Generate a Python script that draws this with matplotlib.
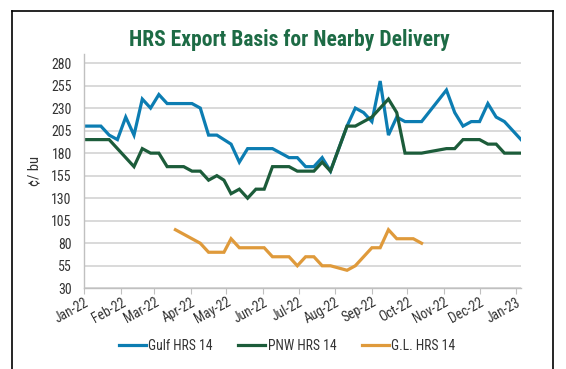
import numpy as np
import matplotlib
matplotlib.use("Agg")
import matplotlib.pyplot as plt
import matplotlib.dates as mdates
from matplotlib.font_manager import fontManager

# weekly report dates
dates = ["2022-01-01", "2022-01-08", "2022-01-15", "2022-01-22", "2022-01-29",
         "2022-02-05", "2022-02-12", "2022-02-19", "2022-02-26", "2022-03-05",
         "2022-03-12", "2022-03-19", "2022-03-26", "2022-04-02", "2022-04-09",
         "2022-04-16", "2022-04-23", "2022-04-29", "2022-05-05", "2022-05-12",
         "2022-05-19", "2022-05-26", "2022-06-02", "2022-06-09", "2022-06-16",
         "2022-06-23", "2022-06-30", "2022-07-07", "2022-07-14", "2022-07-21",
         "2022-07-28", "2022-08-04", "2022-08-11", "2022-08-18", "2022-08-25",
         "2022-09-01", "2022-09-08", "2022-09-15", "2022-09-22", "2022-09-29",
         "2022-10-06", "2022-10-13", "2022-10-20", "2022-10-27", "2022-11-03",
         "2022-11-10", "2022-11-17", "2022-11-24", "2022-12-01", "2022-12-08",
         "2022-12-15", "2022-12-22", "2022-12-29", "2023-01-05"]

gulf = [210, 210, 210, 200, 195, 220, 200, 240, 230, 245,
        235, 235, 235, 235, 230, 200, 200, 195, 190, 170,
        185, 185, 185, 185, 180, 175, 175, 165, 165, 175,
        160, None, 210, 230, 225, 215, 260, 200, 220, 215,
        215, 215, None, None, 250, 225, 210, 215, 215, 235,
        220, 215, None, 195]

pnw = [195, 195, 195, 195, None, None, 165, 185, 180, 180,
       165, 165, 165, 160, 160, 150, 155, 150, 135, 140,
       130, 140, 140, 165, 165, 165, 160, 160, 160, 170,
       160, None, 210, 210, 215, 220, 230, 240, 225, 180,
       180, 180, None, None, 185, 185, 195, 195, 195, 190,
       190, 180, 180, 180]

gl = [None, None, None, None, None, None, None, None, None, None,
      None, 95, 90, 85, 80, 70, 70, 70, 85, 75,
      75, 75, 75, 65, 65, 65, 55, 65, 65, 55,
      55, None, 50, 55, None, 75, 75, 95, 85, 85,
      85, 80, None, None, None, None, None, None, None, None,
      None, None, None, None]

series_names = ["Gulf HRS 14", "PNW HRS 14", "G.L. HRS 14"]
colors = ["#0c7db2", "#1c5c3a", "#df9a3b"]
y_ticks = [30, 55, 80, 105, 130, 155, 180, 205, 230, 255, 280]

# narrow font like the original, if one is there
names = {f.name for f in fontManager.ttflist}
font = "DejaVu Sans"
for cand in ["Roboto Condensed", "Barlow Condensed", "Archivo Narrow", "Asap Condensed"]:
    if cand in names:
        font = cand
        break
plt.rcParams["font.family"] = [font, "DejaVu Sans"]

fig = plt.figure(figsize=(5.66, 3.69), dpi=100)
ax = fig.add_axes([84.3 / 566, 1 - 288.3 / 369, (521 - 84.3) / 566, (288.3 - 54) / 369])

x = np.array(dates, dtype="datetime64[D]")
for vals, name, c in zip([gulf, pnw, gl], series_names, colors):
    v = np.array([np.nan if a is None else a for a in vals], dtype=float)
    ok = ~np.isnan(v)
    ax.plot(x[ok], v[ok], color=c, lw=2.3, label=name, solid_joinstyle="miter")

ax.set_xlim(x[0], x[-1])
ax.set_ylim(30, 290)
ax.set_yticks(y_ticks)
ax.yaxis.grid(True, color="#d0d0d0", lw=1.1)
ax.set_axisbelow(True)
ax.xaxis.set_major_locator(mdates.MonthLocator())
ax.xaxis.set_major_formatter(mdates.DateFormatter("%b-%y"))
for s in ["top", "right"]:
    ax.spines[s].set_visible(False)
for s in ["left", "bottom"]:
    ax.spines[s].set_color("#c0c0c0")
    ax.spines[s].set_linewidth(1.0)
ax.tick_params(axis="y", length=0, labelsize=10, labelcolor="#333333", pad=9)
ax.tick_params(axis="x", length=4, color="#c0c0c0", labelsize=9.8, labelcolor="#333333", pad=1)
for lab in ax.get_xticklabels():
    lab.set_rotation(29)
    lab.set_ha("right")
    lab.set_rotation_mode("anchor")
ax.set_ylabel("¢/ bu", fontsize=10.5, color="#333333", labelpad=7)

fig.text(289 / 566, 1 - 40 / 369, "HRS Export Basis for Nearby Delivery", ha="center", va="center",
         fontsize=15.5, fontweight="bold", color="#1d6b45")

fig.legend(loc="center", bbox_to_anchor=(287 / 566, 1 - 346 / 369), ncol=3, frameon=False,
           fontsize=9.8, handlelength=2.0, handletextpad=0.15, columnspacing=1.9,
           labelcolor="#333333")

# outer frame
fr = dict(color="black", lw=1.2, transform=fig.transFigure)
fig.add_artist(plt.Line2D([12 / 566, 12 / 566], [0, 1 - 10.5 / 369], **fr))
fig.add_artist(plt.Line2D([553 / 566, 553 / 566], [0, 1 - 10.5 / 369], **fr))
fig.add_artist(plt.Line2D([12 / 566, 553 / 566], [1 - 10.5 / 369, 1 - 10.5 / 369], **fr))

fig.savefig("out.png", dpi=100)
